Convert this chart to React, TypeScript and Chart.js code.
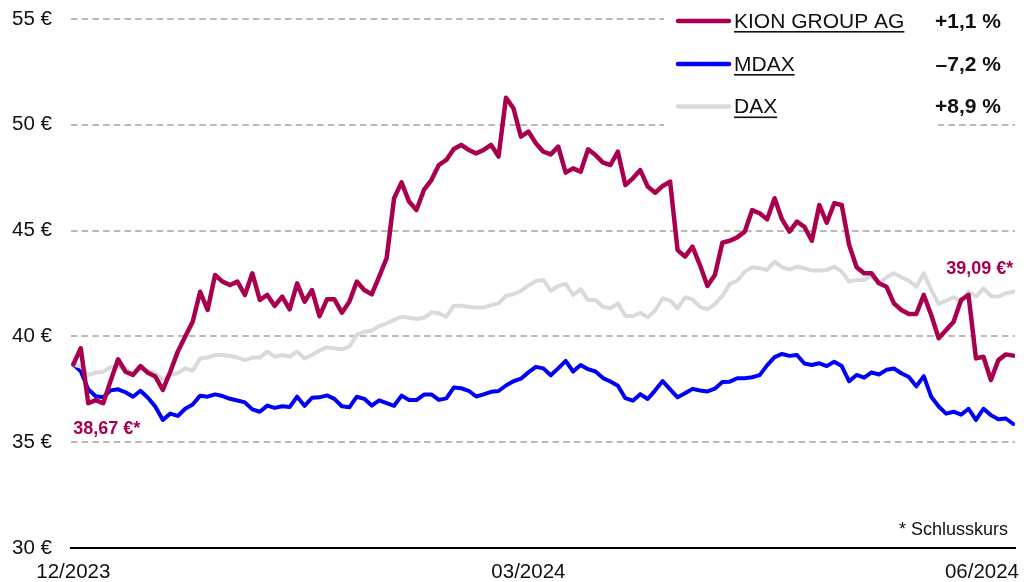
import React, { useEffect, useRef } from 'react';
import { Chart, registerables } from 'chart.js';

Chart.register(...registerables);

const seriesNames = ['KION GROUP AG', 'MDAX', 'DAX'];
const seriesChanges = ['+1,1 %', '\u20137,2 %', '+8,9 %'];
const seriesColors = ['#A8004F', '#0000F5', '#DADADA'];

const kion = [
  38.67, 39.44, 36.84, 36.99, 36.84, 37.9, 38.92, 38.33, 38.18, 38.6, 38.28, 38.1, 37.47, 38.33, 39.28, 39.99, 40.69, 42.11, 41.25, 42.9, 42.59,
  42.43, 42.59, 41.96, 42.98, 41.72, 41.96, 41.44, 41.88, 41.28, 42.51, 41.64, 42.19, 40.96, 41.75, 41.75, 41.12, 41.64, 42.59, 42.19, 41.99, 42.82, 43.7,
  46.53, 47.28, 46.37, 45.97, 46.92, 47.39, 48.1, 48.34, 48.86, 49.05, 48.81, 48.65, 48.81, 49.05, 48.5, 51.28, 50.78, 49.44, 49.68, 49.13, 48.73,
  48.6, 48.97, 47.74, 47.94, 47.78, 48.84, 48.57, 48.21, 48.1, 48.73, 47.15, 47.47, 47.86, 47.08, 46.79, 47.11, 47.31, 44.08, 43.77, 44.24, 43.37,
  42.38, 42.9, 44.43, 44.52, 44.68, 44.95, 45.97, 45.82, 45.53, 46.53, 45.53, 44.95, 45.42, 45.18, 44.52, 46.21, 45.37, 46.29, 46.21, 44.32, 43.27, 42.98,
  42.98, 42.51, 42.35, 41.56, 41.25, 41.06, 41.06, 41.96, 41.01, 39.91, 40.3, 40.69, 41.72, 41.96, 38.96, 39.04, 37.94, 38.88, 39.15, 39.09,
];

const mdax = [
  38.67, 38.35, 37.5, 37.17, 37.12, 37.45, 37.5, 37.36, 37.15, 37.43, 37.1, 36.68, 36.05, 36.35, 36.24, 36.58, 36.78, 37.2, 37.15, 37.26, 37.18,
  37.05, 36.97, 36.88, 36.55, 36.44, 36.73, 36.62, 36.7, 36.66, 37.15, 36.72, 37.1, 37.12, 37.21, 37.05, 36.7, 36.65, 37.15, 37.05, 36.73, 36.98, 36.85,
  36.72, 37.2, 36.99, 36.99, 37.25, 37.26, 37.0, 37.07, 37.58, 37.55, 37.43, 37.16, 37.26, 37.38, 37.42, 37.68, 37.88, 38.0, 38.3, 38.56, 38.49,
  38.16, 38.49, 38.84, 38.34, 38.65, 38.45, 38.34, 38.03, 37.87, 37.67, 37.08, 36.96, 37.27, 37.04, 37.45, 37.89, 37.5, 37.12, 37.31, 37.52, 37.44,
  37.4, 37.53, 37.84, 37.86, 38.02, 38.02, 38.07, 38.17, 38.63, 39.02, 39.17, 39.08, 39.12, 38.72, 38.65, 38.73, 38.6, 38.8, 38.6, 37.88, 38.18, 38.05,
  38.3, 38.2, 38.42, 38.48, 38.26, 38.08, 37.64, 38.12, 37.15, 36.69, 36.35, 36.44, 36.3, 36.58, 36.05, 36.58, 36.28, 36.08, 36.12, 35.86,
];

const dax = [
  38.67, 38.57, 38.18, 38.28, 38.33, 38.54, 38.54, 38.49, 38.18, 38.49, 38.38, 38.26, 37.97, 38.18, 38.26, 38.49, 38.38, 38.96, 39.0, 39.12, 39.12,
  39.07, 39.0, 38.88, 39.0, 39.0, 39.28, 39.04, 39.12, 39.04, 39.28, 38.96, 39.12, 39.33, 39.49, 39.44, 39.39, 39.52, 40.07, 40.22, 40.27, 40.49, 40.62,
  40.78, 40.93, 40.88, 40.82, 40.88, 41.14, 41.09, 40.93, 41.45, 41.45, 41.4, 41.36, 41.36, 41.48, 41.56, 41.92, 41.99, 42.15, 42.4, 42.62, 42.67,
  42.16, 42.38, 42.48, 41.96, 42.23, 41.72, 41.72, 41.4, 41.33, 41.56, 40.96, 40.96, 41.12, 40.9, 41.22, 41.8, 41.69, 41.33, 41.85, 41.75, 41.4,
  41.28, 41.53, 41.91, 42.48, 42.63, 43.06, 43.27, 43.22, 43.14, 43.53, 43.27, 43.17, 43.29, 43.22, 43.11, 43.11, 43.14, 43.29, 43.06, 42.59, 42.67, 42.67,
  42.86, 42.48, 42.79, 42.98, 42.79, 42.63, 42.35, 42.98, 42.19, 41.53, 41.69, 41.85, 41.64, 42.11, 41.88, 42.27, 41.91, 41.88, 42.04, 42.11,
];

const xTickIndex = [0, 61, 121.8];
const xTickLabels = ['12/2023', '03/2024', '06/2024'];
const yMin = 30;
const yMax = 55;
const yStep = 5;
const startLabel = '38,67 \u20ac*';
const endLabel = '39,09 \u20ac*';
const footnote = '* Schlusskurs';

const FONT = '"Liberation Sans", Arial, Helvetica, sans-serif';

const overlayPlugin = {
  id: 'overlay',
  beforeDatasetsDraw(chart: any) {
    const ctx = chart.ctx;
    ctx.save();
    ctx.fillStyle = '#ffffff';
    ctx.fillRect(664, 0, 274, 135);
    ctx.fillRect(664, 0, 360, 40);
    ctx.restore();
  },
  afterDraw(chart: any) {
    const ctx = chart.ctx;
    const xs = chart.scales.x;
    const ys = chart.scales.y;
    ctx.save();
    // legend
    const rowsY = [21, 64, 106.5];
    seriesNames.forEach((name, i) => {
      const y = rowsY[i];
      ctx.strokeStyle = seriesColors[i];
      ctx.lineWidth = 4.5;
      ctx.lineCap = 'round';
      ctx.beginPath();
      ctx.moveTo(678, y);
      ctx.lineTo(729, y);
      ctx.stroke();
      ctx.fillStyle = '#111111';
      ctx.font = `21px ${FONT}`;
      ctx.textAlign = 'left';
      ctx.textBaseline = 'middle';
      ctx.fillText(name, 734, y + 1);
      const w = ctx.measureText(name).width;
      ctx.fillRect(734, y + 10, w, 1.6);
      ctx.font = `bold 21px ${FONT}`;
      ctx.textAlign = 'right';
      ctx.fillText(seriesChanges[i], 1001, y + 1);
    });
    // annotations
    ctx.fillStyle = seriesColors[0];
    ctx.font = `bold 18px ${FONT}`;
    ctx.textBaseline = 'middle';
    const x0 = xs.getPixelForValue(0);
    const y0 = ys.getPixelForValue(kion[0]);
    ctx.textAlign = 'left';
    ctx.fillText(startLabel, x0, y0 + 64);
    const last = kion.length - 1;
    const x1 = xs.getPixelForValue(last);
    const y1 = ys.getPixelForValue(kion[last]);
    ctx.textAlign = 'right';
    ctx.fillText(endLabel, x1, y1 - 87);
    // footnote
    ctx.fillStyle = '#111111';
    ctx.font = `18px ${FONT}`;
    ctx.textAlign = 'right';
    ctx.fillText(footnote, 1008, 530);
    ctx.restore();
  },
};

export default function App() {
  const ref = useRef<HTMLCanvasElement | null>(null);
  useEffect(() => {
    if (!ref.current) return;
    const labels = kion.map((_, i) => i);
    const chart = new Chart(ref.current, {
      type: 'line',
      data: {
        labels,
        datasets: [
          { label: seriesNames[0], data: kion, borderColor: seriesColors[0], borderWidth: 4.5, order: 1 },
          { label: seriesNames[1], data: mdax, borderColor: seriesColors[1], borderWidth: 4, order: 3 },
          { label: seriesNames[2], data: dax, borderColor: seriesColors[2], borderWidth: 4, order: 2 },
        ],
      },
      options: {
        animation: false,
        responsive: false,
        maintainAspectRatio: false,
        layout: { padding: { top: 19, right: 9, left: 0, bottom: 0 } },
        plugins: { legend: { display: false }, tooltip: { enabled: false } },
        elements: {
          point: { radius: 0 },
          line: { tension: 0, borderJoinStyle: 'round', borderCapStyle: 'round', fill: false },
        },
        scales: {
          x: {
            type: 'linear',
            min: -0.31,
            max: 126.23,
            grid: { display: false, drawTicks: false },
            border: { display: true, color: '#000000', width: 2 },
            ticks: {
              autoSkip: false,
              maxRotation: 0,
              padding: 12,
              color: '#111111',
              font: { family: FONT, size: 20.5 },
              callback: (_v: any, i: number) => xTickLabels[i],
            },
            afterBuildTicks: (s: any) => {
              s.ticks = xTickIndex.map((v) => ({ value: v }));
            },
            afterFit: (s: any) => {
              s.height = 34;
              s.paddingLeft = 0;
              s.paddingRight = 0;
              s.paddingTop = 0;
              s.paddingBottom = 0;
            },
          },
          y: {
            min: yMin,
            max: yMax,
            ticks: {
              stepSize: yStep,
              padding: 19,
              color: '#111111',
              font: { family: FONT, size: 20.5 },
              callback: (v: any) => `${v} \u20ac`,
            },
            grid: {
              drawTicks: false,
              lineWidth: 2,
              color: (c: any) => (c.tick && c.tick.value === yMin ? 'rgba(0,0,0,0)' : '#BEB8B2'),
            },
            border: { display: false, dash: [6.5, 4.2] },
            afterFit: (s: any) => {
              s.width = 71;
              s.paddingLeft = 0;
              s.paddingRight = 0;
              s.paddingTop = 0;
              s.paddingBottom = 0;
            },
          },
        },
      },
      plugins: [overlayPlugin],
    } as any);
    return () => chart.destroy();
  }, []);
  return (
    <div style={{ position: 'absolute', left: 0, top: 0, width: 1024, height: 582, background: '#fff' }}>
      <canvas ref={ref} width={1024} height={582} style={{ display: 'block' }} />
    </div>
  );
}
